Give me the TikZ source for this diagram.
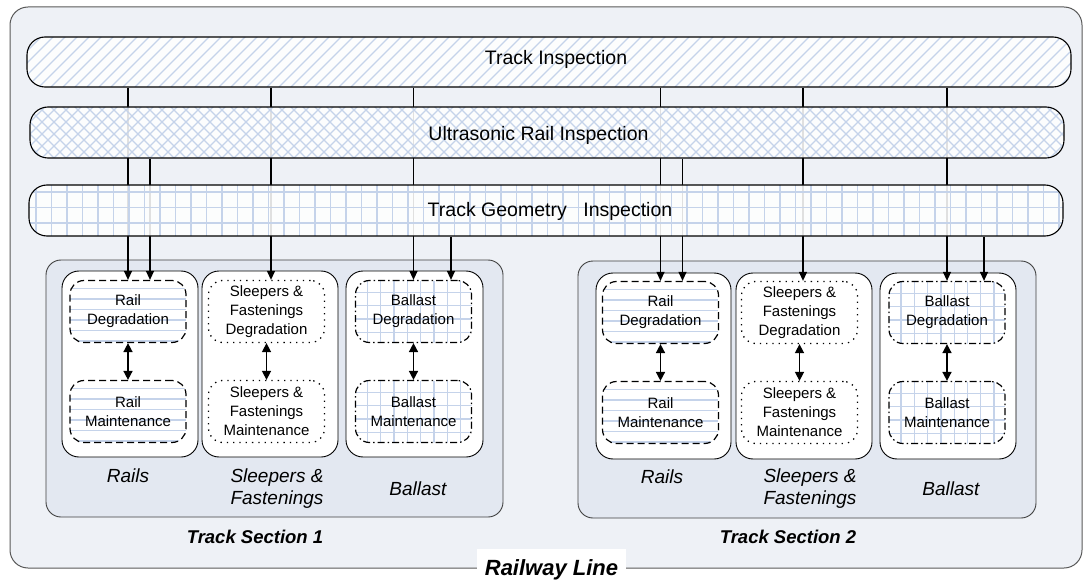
\documentclass[tikz,border=0pt]{standalone}
\usepackage{fontspec}
\setmainfont{Liberation Sans}
\usetikzlibrary{arrows.meta,calc}
\pgfdeclarelayer{bg}
\pgfdeclarelayer{wires}
\pgfsetlayers{bg,wires,main}

\definecolor{pagebg}{HTML}{EEF1F6}
\definecolor{secbg}{HTML}{E3E8F1}
\definecolor{patblue}{HTML}{C5D3EA}

\tikzset{
  patline/.style={draw=patblue, solid, line width=1.3pt},
  % fill textures, drawn inside the shape outline
  diagfill/.style={path picture={
    \foreach \k in {-60,-48,...,1100}{
      \draw[patline] ([xshift=\k*1pt]path picture bounding box.south west) -- ++(60pt,60pt);}}},
  crossfill/.style={path picture={
    \foreach \k in {-60,-48,...,1130}{
      \draw[patline] ([xshift=\k*1pt]path picture bounding box.south west) -- ++(60pt,60pt);
      \draw[patline] ([xshift=\k*1pt]path picture bounding box.south west) -- ++(-60pt,60pt);}}},
  gridfill/.style 2 args={path picture={
    \foreach \k in {#1,#2,...,1100}{
      \draw[patline] ([xshift=\k*1pt]path picture bounding box.south west) -- ([xshift=\k*1pt]path picture bounding box.north west);}
    \foreach \k in {#1,#2,...,80}{
      \draw[patline] ([yshift=-\k*1pt]path picture bounding box.north west) -- ([yshift=-\k*1pt]path picture bounding box.north east);}}},
  rowfill/.style={path picture={
    \foreach \k in {8,18.5,...,70}{
      \draw[patline] ([yshift=-\k*1pt]path picture bounding box.north west) -- ([yshift=-\k*1pt]path picture bounding box.north east);}}},
  band/.style={draw=black, line width=1.1pt, rounded corners=18pt, fill=white,
    fill opacity=0.88, inner sep=0pt},
  bandtext/.style={anchor=base, font=\fontsize{19.5}{23}\selectfont, inner sep=0pt},
  outerbox/.style={draw=black!65, line width=1pt, rounded corners=18pt, fill=pagebg, inner sep=0pt},
  secbox/.style={draw=black!75, line width=0.9pt, rounded corners=15pt, fill=secbg,
    minimum width=457pt, minimum height=257pt, inner sep=0pt},
  partbox/.style={draw=black, line width=0.9pt, rounded corners=17pt, fill=white,
    minimum height=186pt, inner sep=0pt},
  stagebox/.style={line width=1.2pt, rounded corners=14pt, fill=white,
    minimum width=116pt, minimum height=62pt, inner sep=0pt, align=center,
    font=\fontsize{15}{19}\selectfont},
  railstage/.style={stagebox, draw=black, dash pattern=on 7pt off 4pt, rowfill},
  sleeperstage/.style={stagebox, draw=black, line width=1.3pt, dash pattern=on 1.3pt off 5pt},
  ballaststage/.style={stagebox, draw=black, dash pattern=on 7pt off 3pt on 1.5pt off 3pt,
    gridfill={12}{25.3}},
  partlabel/.style={align=center, font=\fontsize{19}{22}\selectfont\itshape, inner sep=0pt},
  seclabel/.style={anchor=base, font=\fontsize{18.5}{22}\selectfont\bfseries\itshape, inner sep=0pt},
  wire/.style={draw=black, line width=1.2pt, -{Triangle[length=9pt,width=8pt]}},
  link/.style={draw=black, line width=1.6pt,
    {Triangle[length=9pt,width=9pt]}-{Triangle[length=9pt,width=9pt]}},
}

\begin{document}
\begin{tikzpicture}[x=1pt,y=-1pt]
\useasboundingbox (0,0) rectangle (1084,580);

% frame of the whole line, the two track sections and their component panels
\begin{pgfonlayer}{bg}
  \node[outerbox, minimum width=1072pt, minimum height=561pt] (line) at (546,287.5) {};
  \node[secbox] (sec1) at (274.5,388.5) {};
  \node[secbox, minimum width=458pt] (sec2) at (807,389.5) {};
  \node[partbox, minimum width=136pt] (rails1) at (130,364) {};
  \node[partbox, minimum width=136pt] (sleep1) at (270,364) {};
  \node[partbox, minimum width=137pt] (ball1) at (414.5,364) {};
  \node[partbox, minimum width=135pt] (rails2) at (663.5,366) {};
  \node[partbox, minimum width=136pt] (sleep2) at (804,366) {};
  \node[partbox, minimum width=136pt] (ball2) at (948,366) {};
\end{pgfonlayer}

% inspection bands
\node[band, diagfill, minimum width=1044pt, minimum height=50pt] (ti) at (549,62) {};
\node[band, crossfill, minimum width=1034pt, minimum height=51pt] (us) at (547,132.5) {};
\node[band, gridfill={7}{22.5}, minimum width=1034pt, minimum height=51pt] (tg) at (546,210.5) {};
\node[bandtext] (tiT) at (556,65) {Track Inspection};
\node[bandtext] (usT) at (538.5,141) {Ultrasonic Rail Inspection};
\node[bandtext] (tgT) at (550,217) {Track Geometry\hspace{0.85em}Inspection};

% degradation / maintenance stages, section 1
\node[railstage] (rd1) at (128,311.5) {Rail\\Degradation};
\node[railstage] (rm1) at (128,411.5) {Rail\\Maintenance};
\node[sleeperstage] (sd1) at (266.5,311.5) {Sleepers \&\\Fastenings\\Degradation};
\node[sleeperstage] (sm1) at (266.5,411.5) {Sleepers \&\\Fastenings\\Maintenance};
\node[ballaststage] (bd1) at (413.5,311.5) {Ballast\\Degradation};
\node[ballaststage] (bm1) at (413.5,411.5) {Ballast\\Maintenance};

% degradation / maintenance stages, section 2
\node[railstage] (rd2) at (660.5,312.5) {Rail\\Degradation};
\node[railstage] (rm2) at (660.5,412.5) {Rail\\Maintenance};
\node[sleeperstage] (sd2) at (799.5,312.5) {Sleepers \&\\Fastenings\\Degradation};
\node[sleeperstage] (sm2) at (799.5,412.5) {Sleepers \&\\Fastenings\\Maintenance};
\node[ballaststage] (bd2) at (947,312.5) {Ballast\\Degradation};
\node[ballaststage] (bm2) at (947,412.5) {Ballast\\Maintenance};

% panel captions
\node[partlabel] (rl1) at (128,476) {Rails};
\node[partlabel] (sl1) at (277,489) {Sleepers \&\\Fastenings};
\node[partlabel] (bl1) at (418,489) {Ballast};
\node[partlabel] (rl2) at (662,477) {Rails};
\node[partlabel] (sl2) at (810,489) {Sleepers \&\\Fastenings};
\node[partlabel] (bl2) at (951,489) {Ballast};

\node[seclabel] (s1T) at (255,543) {Track Section 1};
\node[seclabel] (s2T) at (788,543) {Track Section 2};
\node[anchor=base, fill=white, inner xsep=8pt, inner ysep=9pt, text height=17pt, text depth=6pt,
  font=\fontsize{22}{26}\selectfont\bfseries\itshape] (lineT) at (551.5,575) {Railway Line};

% degradation <-> maintenance
\draw[link] (rd1) -- (rm1);
\draw[link] (sd1) -- (sm1);
\draw[link] (bd1) -- (bm1);
\draw[link] (rd2) -- (rm2);
\draw[link] (sd2) -- (sm2);
\draw[link] (bd2) -- (bm2);

% inspection feeds
\coordinate (r1b) at ($(rd1.north)+(22,0)$);
\coordinate (s1a) at ($(sd1.north)+(4.5,0)$);
\coordinate (b1b) at ($(bd1.north)+(37.5,0)$);
\coordinate (r2b) at ($(rd2.north)+(22,0)$);
\coordinate (s2a) at ($(sd2.north)+(3.5,0)$);
\coordinate (b2b) at ($(bd2.north)+(37,0)$);
\begin{pgfonlayer}{wires}
  \draw[wire] (rd1.north |- ti.south) -- (rd1.north);
  \draw[wire] (r1b |- us.south) -- (r1b);
  \draw[wire] (s1a |- ti.south) -- (s1a);
  \draw[wire] (bd1.north |- ti.south) -- (bd1.north);
  \draw[wire] (b1b |- tg.south) -- (b1b);
  \draw[wire] (rd2.north |- ti.south) -- (rd2.north);
  \draw[wire] (r2b |- us.south) -- (r2b);
  \draw[wire] (s2a |- ti.south) -- (s2a);
  \draw[wire] (bd2.north |- ti.south) -- (bd2.north);
  \draw[wire] (b2b |- tg.south) -- (b2b);
\end{pgfonlayer}
\end{tikzpicture}
\end{document}
